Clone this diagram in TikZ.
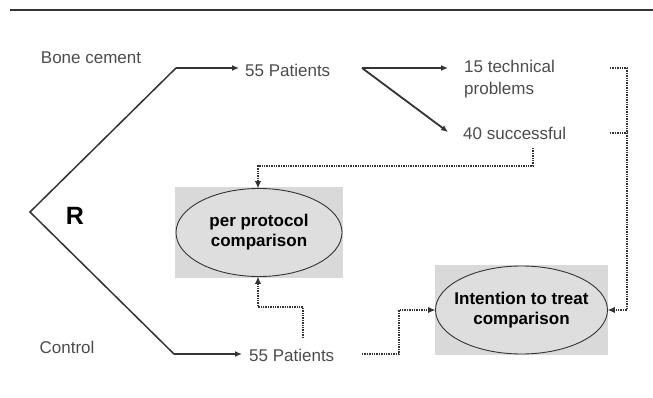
\documentclass[tikz,border=0pt]{standalone}
\usepackage{fontspec}
\setmainfont{Liberation Sans}
\usetikzlibrary{arrows.meta,shapes.geometric}
\definecolor{txtgray}{gray}{0.3}
\definecolor{boxgray}{gray}{0.85}
\definecolor{ellgray}{gray}{0.87}
\definecolor{linegray}{gray}{0.2}
\begin{document}
\begin{tikzpicture}[x=1pt,y=-1pt,
  lbl/.style={inner sep=0pt,text=txtgray,font=\fontsize{17}{22}\selectfont},
  solidarrow/.style={draw=linegray,line width=1.8pt,-{Latex[length=7pt,width=6pt]}},
  mainline/.style={draw=linegray,line width=1.5pt},
  dotline/.style={draw=linegray,line width=1.4pt,densely dotted},
  dotarrow/.style={dotline,-{Latex[length=7pt,width=6pt,fill=linegray,line width=0pt]}},
  graybox/.style={fill=boxgray,draw=none,inner sep=0pt},
  comp/.style={ellipse,draw=linegray,line width=0.9pt,fill=ellgray,inner sep=0pt},
  comptext/.style={align=center,inner sep=0pt,font=\bfseries\fontsize{17}{20}\selectfont}]
\useasboundingbox (0,0) rectangle (653,398);
\fill[white] (0,0) rectangle (653,398);
% top rule
\coordinate (rl) at (10,10);
\coordinate (rr) at (653,10);
\draw[line width=1.5pt,linegray] (rl) -- (rr);

% labels
\node[lbl] (bone) at (91,58) {Bone cement};
\node[lbl] (control) at (67,347) {Control};
\node[inner sep=0pt,font=\bfseries\fontsize{25}{25}\selectfont] (R) at (75,216) {R};
\node[lbl,anchor=west] (p1) at (245,70) {55 Patients};
\node[lbl,anchor=west] (p2) at (249,355) {55 Patients};
\node[lbl,anchor=north west,align=left] (tech) at (464,60) {15 technical\\problems};
\node[lbl,anchor=west] (succ) at (463,133) {40 successful};

% comparison boxes
\node[graybox,minimum width=168pt,minimum height=91pt] (ppbox) at (259,232.5) {};
\node[comp,minimum width=166pt,minimum height=88pt] (pp) at (259,232.5) {};
\node[comptext] (pptext) at (pp.center) {per protocol\\comparison};
\node[graybox,minimum width=173pt,minimum height=90pt] (ittbox) at (521.5,310) {};
\node[comp,minimum width=172pt,minimum height=88pt] (itt) at (521.5,310) {};
\node[comptext] (itttext) at (itt.center) {Intention to treat\\comparison};

% randomisation lines
\coordinate (rv) at (30,212);
\coordinate (b1) at (176,68);
\coordinate (b2) at (174,354);
\draw[mainline] (b1) -- (rv) -- (b2);
\draw[solidarrow,shorten >=6pt] (b1) -- (p1.west |- b1);
\draw[solidarrow,shorten >=7pt] (b2) -- (p2.west |- b2);

% branching
\coordinate (p1e) at (362,68);
\coordinate (techin) at (448,68);
\coordinate (succin) at (448,132);
\draw[solidarrow] (p1e) -- (techin);
\draw[solidarrow] (p1e) -- (succin);

% successful -> per protocol
\coordinate (s1) at (533,148);
\coordinate (s2) at (533,166);
\coordinate (s3) at (258,166);
\draw[dotarrow] (s1) -- (s2) -- (s3) -- (pp.north -| s3);

% right bracket -> ITT
\coordinate (t1) at (610,68);
\coordinate (t2) at (627,68);
\coordinate (u1) at (610,133);
\coordinate (u2) at (627,133);
\draw[dotline] (t1) -- (t2);
\draw[dotline] (u1) -- (u2);
\draw[dotarrow] (t2) -- (627,310) -- (itt.east);

% control patients -> per protocol
\coordinate (c1) at (303,338);
\coordinate (c2) at (303,307);
\coordinate (c3) at (258,307);
\draw[dotarrow] (c1) -- (c2) -- (c3) -- (pp.south -| c3);

% control patients -> ITT
\coordinate (d1) at (362,354);
\coordinate (d2) at (399,354);
\coordinate (d3) at (399,310);
\draw[dotarrow] (d1) -- (d2) -- (d3) -- (itt.west);
\end{tikzpicture}
\end{document}
